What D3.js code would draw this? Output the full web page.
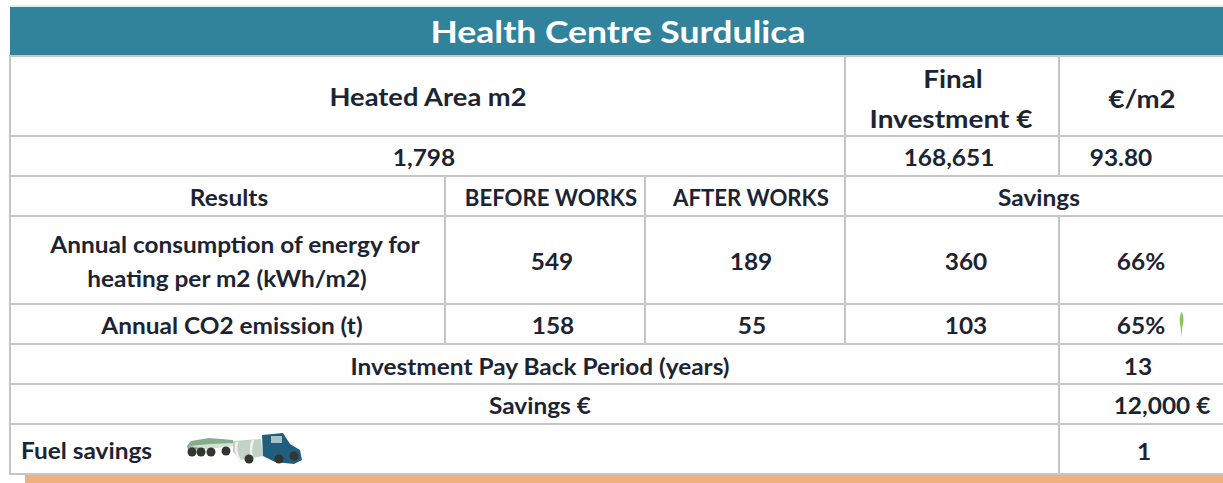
<!DOCTYPE html>
<html>
<head>
<meta charset="utf-8">
<script src="https://cdn.jsdelivr.net/npm/d3@7"></script>
<style>
html, body { margin: 0; padding: 0; background: #fff; }
svg { display: block; }
text { font-family: Lato, "Open Sans", sans-serif; font-weight: 700; fill: #1c2433; }
</style>
</head>
<body>
<div id="chart"></div>
<script>
var title = 'Health Centre Surdulica';
var headerLabels = ['Heated Area m2', 'Final', 'Investment €', '€/m2'];
var headerValues = ['1,798', '168,651', '93.80'];
var resultColumns = ['Results', 'BEFORE WORKS', 'AFTER WORKS', 'Savings'];
var energyLabel = ['Annual consumption of energy for', 'heating per m2 (kWh/m2)'];
var energyValues = ['549', '189', '360', '66%'];
var co2Label = 'Annual CO2 emission (t)';
var co2Values = ['158', '55', '103', '65%'];
var paybackLabel = 'Investment Pay Back Period (years)';
var paybackValue = '13';
var savingsLabel = 'Savings €';
var savingsValue = '12,000 €';
var fuelLabel = 'Fuel savings';
var fuelValue = '1';

var width = 1223, height = 483;

// column and row edges of the table
var col = d3.scaleOrdinal().domain([0, 1, 2, 3, 4, 5]).range([10, 445, 645, 845, 1059, 1224]);
var row = d3.scaleOrdinal().domain([0, 1, 2, 3, 4, 5, 6, 7, 8, 9]).range([7, 56, 136, 176, 216, 304, 344, 384, 424, 474]);

var svg = d3.select('#chart').append('svg').attr('width', width).attr('height', height);

// orange strip under the table
svg.append('rect').attr('x', 25).attr('y', row(9)).attr('width', width - 25).attr('height', height - row(9)).attr('fill', '#efb07e');

// title band
svg.append('rect').attr('x', col(0)).attr('y', row(0)).attr('width', width - col(0)).attr('height', row(1) - row(0)).attr('fill', '#31839b');

// [row from, row to, col from, col to] of each cell
var cells = [
    [1, 2, 0, 3], [1, 2, 3, 4], [1, 2, 4, 5],
    [2, 3, 0, 3], [2, 3, 3, 4], [2, 3, 4, 5],
    [3, 4, 0, 1], [3, 4, 1, 2], [3, 4, 2, 3], [3, 4, 3, 5],
    [4, 5, 0, 1], [4, 5, 1, 2], [4, 5, 2, 3], [4, 5, 3, 4], [4, 5, 4, 5],
    [5, 6, 0, 1], [5, 6, 1, 2], [5, 6, 2, 3], [5, 6, 3, 4], [5, 6, 4, 5],
    [6, 7, 0, 4], [6, 7, 4, 5],
    [7, 8, 0, 4], [7, 8, 4, 5],
    [8, 9, 0, 4], [8, 9, 4, 5]
];

svg.selectAll('.cell').data(cells).enter().append('rect')
    .attr('class', 'cell')
    .attr('x', function(d) { return col(d[2]); })
    .attr('y', function(d) { return row(d[0]); })
    .attr('width', function(d) { return col(d[3]) - col(d[2]); })
    .attr('height', function(d) { return row(d[1]) - row(d[0]); })
    .attr('fill', 'none')
    .attr('stroke', '#c6c6c6')
    .attr('stroke-width', 2);

// top edge above the title band
svg.append('line').attr('x1', col(0)).attr('x2', width).attr('y1', row(0) - 1).attr('y2', row(0) - 1)
    .attr('stroke', '#d4d4d4').attr('stroke-width', 1);

// Lato runs narrower than the original's font, so widen each string a bit
function put(str, x, y, size, stretch, anchor) {
    var t = svg.append('text').attr('x', x).attr('y', y)
        .attr('text-anchor', anchor || 'middle')
        .attr('dominant-baseline', 'central')
        .attr('font-size', size)
        .text(str);
    t.attr('textLength', t.node().getComputedTextLength() * stretch)
        .attr('lengthAdjust', 'spacingAndGlyphs');
    return t;
}

put(title, 618, 31, 31, 1.145).style('fill', '#fff');

var big = 24, mid = 22.5, wide = 1.085, caps = 0.985;
put(headerLabels[0], 428, 96, big, 1.137);
put(headerLabels[1], 953, 78, big, 1.16);
put(headerLabels[2], 951, 118, big, 1.165);
put(headerLabels[3], 1142, 98, big, 1.15);

put(headerValues[0], 424, 157, mid, wide);
put(headerValues[1], 949, 157, mid, wide);
put(headerValues[2], 1121, 157, mid, wide);

put(resultColumns[0], 229, 197, mid, wide);
put(resultColumns[1], 551, 197, mid, caps);
put(resultColumns[2], 751, 197, mid, caps);
put(resultColumns[3], 1039, 197, mid, wide);

put(energyLabel[0], 235, 244, mid, wide);
put(energyLabel[1], 227, 278, mid, wide);
put(energyValues[0], 552, 261, mid, wide);
put(energyValues[1], 751, 261, mid, wide);
put(energyValues[2], 966, 261, mid, wide);
put(energyValues[3], 1141, 261, mid, wide);

put(co2Label, 232, 325, mid, wide);
put(co2Values[0], 553, 325, mid, wide);
put(co2Values[1], 752, 325, mid, wide);
put(co2Values[2], 966, 325, mid, wide);
put(co2Values[3], 1141, 325, mid, wide);

put(paybackLabel, 540, 366, mid, wide);
put(paybackValue, 1138, 366, mid, wide);
put(savingsLabel, 540, 405, mid, wide);
put(savingsValue, 1162, 405, mid, wide);
put(fuelLabel, 21, 450, mid, wide, 'start');
put(fuelValue, 1144, 451, mid, wide);

// little green sprig beside 65%
svg.append('path').attr('d', 'M1179.5 320 Q1180.5 313 1181.5 312 Q1183.5 314 1183.5 321 L1182 329 L1181.5 338 L1180.8 329 Z')
    .attr('fill', '#86c850');

// truck icon
var truck = svg.append('g').attr('transform', 'translate(187,432)');
truck.append('path').attr('d', 'M0 14 L4 9 L22 6 L46 8 L46 13 L20 17 L1 18 Z').attr('fill', '#86ab8e');
truck.append('path').attr('d', 'M2 14 L24 12 L46 11 L46 14 L20 17 Z').attr('fill', '#d4e2d6');
truck.append('path').attr('d', 'M46 9 L74 7 L76 24 L54 28 L46 20 Z').attr('fill', '#c2d3c5');
truck.append('path').attr('d', 'M50 10 Q47 20 54 30 M66 8 Q62 18 66 30').attr('stroke', '#f0f3f0').attr('stroke-width', 2.5).attr('fill', 'none');
truck.append('path').attr('d', 'M75 3 L96 1 L103 12 L113 18 L115 28 L107 32 L88 30 L76 24 Z').attr('fill', '#1f5f7d');
truck.append('rect').attr('x', 84).attr('y', 4).attr('width', 11).attr('height', 7).attr('fill', '#a7c0ca');
truck.selectAll('circle').data([[5, 20], [14, 20], [24, 20], [39, 19], [62, 27], [92, 27], [107, 24]]).enter().append('circle')
    .attr('cx', function(d) { return d[0]; }).attr('cy', function(d) { return d[1]; }).attr('r', 4.5).attr('fill', '#35352f');
</script>
</body>
</html>
